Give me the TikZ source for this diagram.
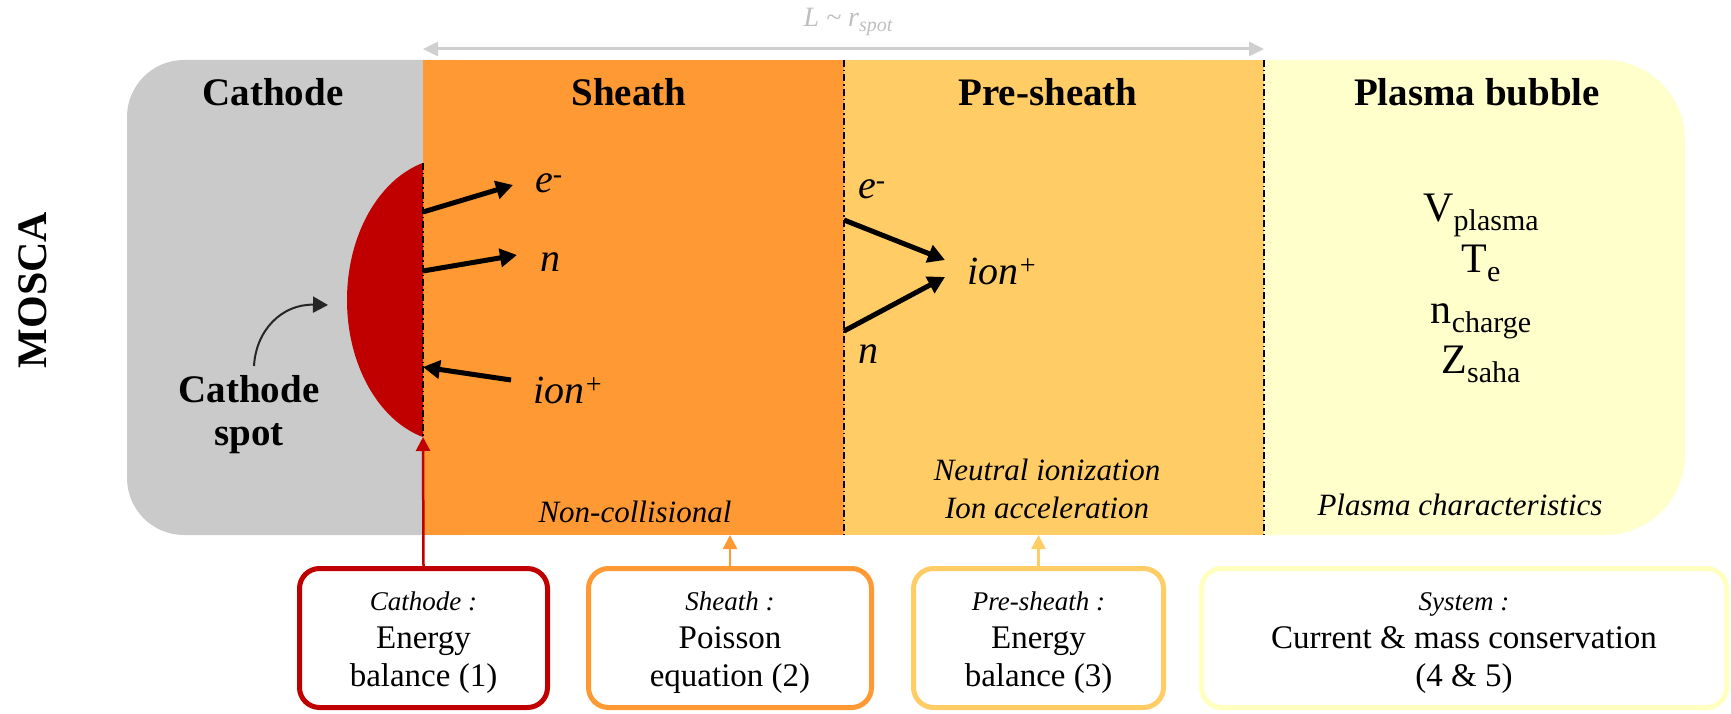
\documentclass[tikz,border=0pt]{standalone}
\usepackage{fontspec}
\setmainfont{Liberation Serif}
\usetikzlibrary{arrows.meta}
\definecolor{cgray}{HTML}{CACACA}
\definecolor{corange}{HTML}{FF9933}
\definecolor{cpre}{HTML}{FFCC66}
\definecolor{cyellow}{HTML}{FFFFCC}
\definecolor{cybord}{HTML}{FFFFC0}
\definecolor{cred}{HTML}{C00000}
\definecolor{cdim}{HTML}{CFCFCF}
\definecolor{cdimtext}{HTML}{BFBFBF}
\definecolor{ccurve}{HTML}{262626}
\newcommand\fsz[1]{\fontsize{#1}{#1}\selectfont}
\newcommand\plq[2]{#1\raisebox{-9pt}{\fsz{30}#2}}
\tikzset{
  region/.style={inner sep=0pt, outer sep=0pt, draw=none},
  txt/.style={inner sep=0pt, outer sep=0pt, anchor=base},
  hdr/.style={txt, font=\bfseries\fsz{39}},
  part/.style={inner sep=0pt, outer sep=0pt, anchor=base west, font=\itshape\fsz{40}},
  pq/.style={txt, font=\fsz{42}},
  note/.style={txt, font=\itshape\fsz{31}},
  ddot/.style={line width=1.2pt, dash pattern=on 7pt off 3pt on 1.5pt off 3pt},
  parr/.style={line width=5pt, -{Triangle[length=17pt,width=18pt]}},
  boxarr/.style={line width=2.5pt, -{Triangle[length=14pt,width=14pt]}},
  eqbox/.style={draw, line width=5pt, rounded corners=20pt, fill=white, inner sep=0pt, minimum height=139pt},
  eqtxt/.style={align=center, inner sep=0pt, font={\fontsize{33}{38}\selectfont}},
}
\begin{document}
\begin{tikzpicture}[x=1pt,y=-1pt]
\useasboundingbox (0,0) rectangle (1731,714);
% backgrounds
\fill[cgray, rounded corners=57pt] (127,60) rectangle (520,535);
\fill[cyellow, rounded corners=80pt] (1100,60) rectangle (1685,535);
\node[region, fill=corange, minimum width=421pt, minimum height=475pt] (sheath) at (633.5,297.5) {};
\node[region, fill=cpre, minimum width=420pt, minimum height=475pt] (presheath) at (1054,297.5) {};
% cathode spot
\begin{scope}
\clip (300,150) rectangle (423,450);
\fill[cred] (450,300) ellipse [x radius=103pt, y radius=142pt];
\end{scope}
\coordinate (spottop) at (423,163);
\coordinate (spotbot) at (423,437);
\draw[ddot] (spottop) -- (spotbot);
\draw[ddot] (presheath.north west) -- (presheath.south west);
\draw[ddot] (presheath.north east) -- (presheath.south east);
% dimension arrow
\draw[cdim, line width=3pt, {Triangle[length=15pt,width=14pt]}-{Triangle[length=15pt,width=14pt]}]
  (sheath.north west |- 0,49) -- (presheath.north east |- 0,49);
\node[txt, font=\itshape\fsz{28}, text=cdimtext] (Llab) at (848,27) {L \textasciitilde{} r\raisebox{-5pt}{\fsz{20}spot}};
% MOSCA
\node[rotate=90, inner sep=0pt, font=\bfseries\fsz{42}] (mosca) at (33,290) {MOSCA};
% headers
\node[hdr] (hcat) at (273,106) {Cathode};
\node[hdr] (hsh) at (629,106) {Sheath};
\node[hdr] (hpre) at (1048,106) {Pre-sheath};
\node[hdr] (hpl) at (1477,106) {Plasma bubble};
% cathode spot label
\node[hdr] (cs1) at (249,402) {Cathode};
\node[hdr] (cs2) at (249,445) {spot};
\coordinate (cstail) at (254,366);
\coordinate (cshead) at (328,305);
\draw[ccurve, line width=2pt, -{Triangle[length=15pt,width=16pt]}] (cstail) .. controls (256,330) and (282,304) .. (cshead);
% sheath particles
\node[part] (eS) at (535,193) {e\textsuperscript{-}};
\node[part] (nS) at (540,271) {n};
\node[part] (iS) at (533,403) {ion\textsuperscript{+}};
\coordinate (t1) at (423,212); \coordinate (h1) at (513,185);
\coordinate (t2) at (423,271); \coordinate (h2) at (517,255);
\coordinate (t3) at (511,380); \coordinate (h3) at (423,367);
\draw[parr] (t1) -- (h1);
\draw[parr] (t2) -- (h2);
\draw[parr] (t3) -- (h3);
% pre-sheath particles
\node[part] (eP) at (858,199) {e\textsuperscript{-}};
\node[part] (iP) at (967,284) {ion\textsuperscript{+}};
\node[part] (nP) at (858,363) {n};
\coordinate (t4) at (844,220); \coordinate (h4) at (945,260);
\coordinate (t5) at (844,331); \coordinate (h5) at (945,277);
\draw[parr] (t4) -- (h4);
\draw[parr] (t5) -- (h5);
% plasma quantities
\node[pq] (qV) at (1481,222) {\plq{V}{plasma}};
\node[pq] (qT) at (1481,272) {\plq{T}{e}};
\node[pq] (qn) at (1481,323) {\plq{n}{charge}};
\node[pq] (qZ) at (1481,373) {\plq{Z}{saha}};
% region notes
\node[note] (nc) at (635,522) {Non-collisional};
\node[note] (ni) at (1047,480) {Neutral ionization};
\node[note] (ia) at (1047,518) {Ion acceleration};
\node[note] (pc) at (1460,515) {Plasma characteristics};
% equation boxes
\node[eqbox, draw=cred, minimum width=248pt] (cbox) at (423.5,638) {};
\node[eqbox, draw=corange, minimum width=283pt] (sbox) at (730,638) {};
\node[eqbox, draw=cpre, minimum width=250pt] (pbox) at (1038.5,638) {};
\node[eqbox, draw=cybord, minimum width=525pt] (ybox) at (1464,638) {};
\node[eqtxt] (cboxt) at (423.5,643) {{\itshape\fsz{27}Cathode :}\\Energy\\balance (1)};
\node[eqtxt] (sboxt) at (730,643) {{\itshape\fsz{27}Sheath :}\\Poisson\\equation (2)};
\node[eqtxt] (pboxt) at (1038.5,643) {{\itshape\fsz{27}Pre-sheath :}\\Energy\\balance (3)};
\node[eqtxt] (yboxt) at (1464,643) {{\itshape\fsz{27}System :}\\Current \& mass conservation\\(4 \& 5)};
% box arrows
\draw[cred, boxarr] (cbox.north) -- (spotbot);
\draw[corange, boxarr] (sbox.north) -- (sbox.north |- sheath.south);
\draw[cpre, boxarr] (pbox.north) -- (pbox.north |- presheath.south);
\end{tikzpicture}
\end{document}
